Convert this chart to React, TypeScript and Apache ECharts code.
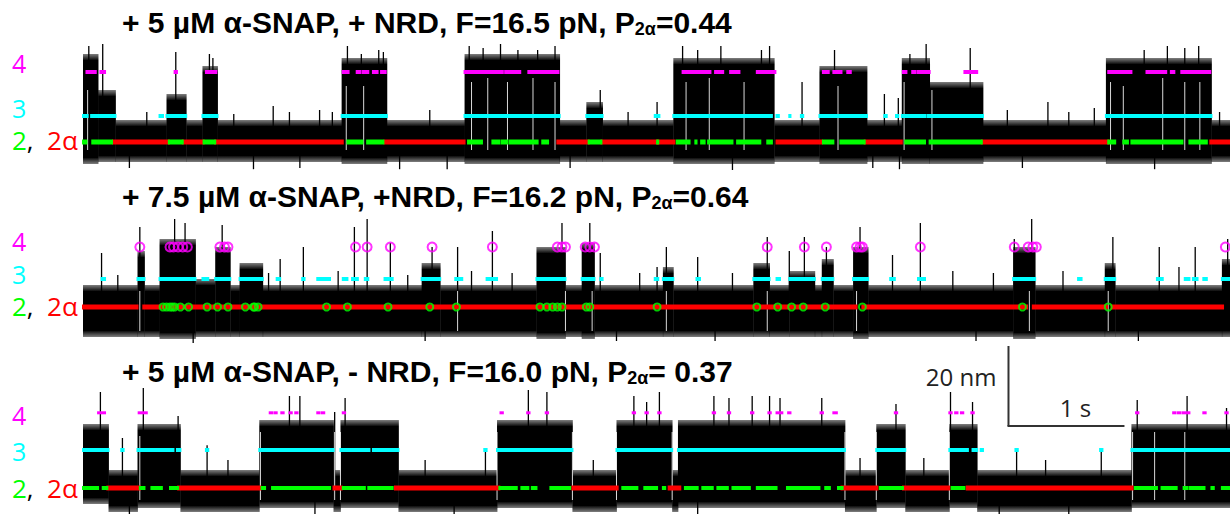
import React, { useEffect, useRef } from "react";
import * as echarts from "echarts";

// ---------- axis extent (seconds) ----------
const T_MAX = 9.89;

// ---------- state levels (nm above level 2 / 2α) for traces 1..3 ----------
const level3 = [6.5, 7, 9.5];
const level4 = [17.5, 15, 18.8];

// ---------- titles ----------
const titleMain = [
  "+ 5 µM α-SNAP, + NRD, F=16.5 pN, P",
  "+ 7.5 µM α-SNAP, +NRD, F=16.2 pN, P",
  "+ 5 µM α-SNAP, - NRD, F=16.0 pN, P",
];
const titleValue = ["=0.44", "=0.64", "= 0.37"];

// ---------- trace 1 ----------
const t1Bands = [
  [0, 0.13, -5.5, 22], [0.13, 0.28, -5, 13], [0.28, 0.72, -5, 5.5], [0.72, 0.89, -5, 12],
  [0.89, 1.03, -5, 5.5], [1.03, 1.16, -5, 19], [1.16, 2.23, -5, 5.5], [2.23, 2.62, -5.5, 21],
  [2.62, 3.29, -5, 5.5], [3.29, 4.11, -5.5, 22], [4.11, 4.34, -5, 5.5], [4.34, 4.48, -5, 10],
  [4.48, 5.09, -5, 5.5], [5.09, 5.96, -5.5, 21], [5.96, 6.35, -5, 5.5], [6.35, 6.76, -5.5, 19],
  [6.76, 7.06, -5, 5.5], [7.06, 7.3, -5.5, 21], [7.3, 7.76, -5.5, 15], [7.76, 8.82, -5, 5.5],
  [8.82, 9.73, -5.5, 21], [9.73, 9.89, -5, 5.5],
];
const t1Spikes = [
  [0.05, 0, 24], [0.17, 0, 24.5], [0.4, -6.5, 0], [0.55, 0, 7.5], [0.8, 0, 22.5], [1.09, 0, 22],
  [1.12, 0, 21], [1.3, 0, 7], [1.47, -6.8, 0], [1.64, 0, 9], [1.78, 0, 7.5], [1.87, -6.5, 0],
  [2.04, 0, 8], [2.15, 0, 7.5], [2.28, 0, 24], [2.4, 0, 22], [2.55, 0, 23], [2.59, 0, 22.5],
  [2.73, -6.8, 0], [2.99, 0, 8], [3.14, -6.8, 0], [3.33, 0, 24], [3.45, 0, 23.5], [3.6, 0, 24.5],
  [3.75, 0, 23], [3.92, 0, 23], [4.07, 0, 24], [4.2, -6.5, 0], [4.46, 0, 13], [4.7, 0, 7.5],
  [4.95, 0, 10], [5.17, 0, 24], [5.3, 0, 23], [5.5, 0, 24], [5.6, -7, 0], [5.85, 0, 23],
  [5.92, 0, 24], [6.2, 0, 15], [6.48, 0, 23], [6.81, -6.5, 0], [6.91, 0, 12], [7.03, 0, 11],
  [7.04, -6.8, 0], [7.13, 0, 22], [7.27, 0, 24.5], [7.65, 0, 23.5], [7.97, 0, 8], [8.1, -6.5, 0],
  [8.32, 0, 10], [8.5, 0, 7.5], [8.72, 0, 8.5], [9.15, 0, 23], [9.24, -6.8, 0], [9.35, 0, 24],
  [9.5, 0, 23.5], [9.62, 0, 24], [9.8, 0, 7.5],
];
const t1Gaps = [
  [0.04, -2, 13], [2.27, -2, 14], [2.42, -2, 14], [3.35, -2, 15], [3.49, -2, 16], [3.66, -2, 15],
  [3.88, -2, 16], [4.07, -2, 15], [5.2, -2, 15], [5.4, -2, 16], [5.7, -2, 15], [6.51, -2, 14],
  [7.08, -2, 15], [7.32, -2, 13], [8.86, -2, 15], [8.97, -2, 14], [9.31, -2, 16], [9.5, -2, 15],
  [9.63, -2, 15],
];
const t1Red = [
  [0.26, 0.74], [0.86, 1.04], [1.14, 2.24], [2.6, 3.29], [4.09, 4.36], [4.47, 4.95],
  [4.96, 5.1], [5.98, 6.37], [6.74, 7.06], [7.75, 8.84], [9.72, 9.89],
];
const t1Green = [
  [0, 0.03], [0.08, 0.25], [0.74, 0.86], [1.04, 1.14], [2.28, 2.41], [2.45, 2.59], [3.32, 3.44],
  [3.53, 3.59], [3.61, 3.66], [3.68, 3.92], [3.96, 4.01], [4.36, 4.47], [4.95, 4.96], [5.12, 5.23],
  [5.28, 5.29], [5.33, 5.36], [5.39, 5.6], [5.64, 5.84], [5.9, 5.94], [6.38, 6.47], [6.53, 6.74],
  [7.09, 7.26], [7.3, 7.75], [8.84, 8.9], [8.97, 9.01], [9.04, 9.48], [9.54, 9.69],
];
const t1Cyan = [
  [0, 0.04], [0.07, 0.28], [0.66, 0.69], [0.72, 0.89], [1.03, 1.16], [2.23, 2.62], [3.29, 4.11],
  [4.34, 4.48], [4.93, 4.97], [5.09, 5.94], [5.98, 6.0], [6.09, 6.1], [6.19, 6.21], [6.35, 6.76],
  [6.91, 6.93], [7.01, 7.03], [7.06, 7.26], [7.28, 7.76], [8.82, 9.73],
];
const t1Magenta = [
  [0.03, 0.11], [0.15, 0.19], [0.79, 0.81], [1.06, 1.15], [2.24, 2.29], [2.36, 2.39], [2.41, 2.46],
  [2.5, 2.54], [2.57, 2.61], [3.29, 3.62], [3.64, 3.77], [3.84, 3.9], [3.91, 3.97], [3.98, 4.1],
  [5.17, 5.41], [5.45, 5.52], [5.58, 5.66], [5.81, 5.97], [6.38, 6.43], [6.47, 6.54], [6.59, 6.62],
  [7.07, 7.1], [7.15, 7.18], [7.2, 7.3], [7.6, 7.71], [8.84, 9.04], [9.17, 9.34], [9.38, 9.41],
  [9.47, 9.72],
];

// ---------- trace 2 ----------
const t2Bands = [
  [0, 0.47, -7.5, 5.5], [0.47, 0.53, -7.5, 14], [0.53, 0.66, -7.5, 5.5], [0.66, 0.97, -8, 17],
  [0.97, 1.14, -7.5, 7], [1.14, 1.27, -7.5, 15], [1.27, 1.35, -7.5, 5.5], [1.35, 1.55, -7.5, 11],
  [1.55, 2.92, -7.5, 5.5], [2.92, 3.08, -7.5, 11], [3.08, 3.91, -7.5, 5.5], [3.91, 4.16, -8, 15],
  [4.16, 4.3, -7.5, 5.5], [4.3, 4.41, -8, 16], [4.41, 5.0, -7.5, 5.5], [5.0, 5.09, -7.5, 10],
  [5.09, 5.78, -7.5, 5.5], [5.78, 5.92, -7.5, 11], [5.92, 6.09, -7.5, 5.5], [6.09, 6.31, -7.5, 9],
  [6.31, 6.37, -7.5, 5.5], [6.37, 6.47, -7.5, 12], [6.47, 6.64, -7.5, 5.5], [6.64, 6.77, -8, 15],
  [6.77, 8.02, -7.5, 5.5], [8.02, 8.21, -8, 15], [8.21, 8.81, -7.5, 5.5], [8.81, 8.9, -7.5, 11],
  [8.9, 9.82, -7.5, 5.5], [9.82, 9.89, -7.5, 12],
];
const t2Spikes = [
  [0.16, 0, 13.5], [0.3, 0, 8], [0.49, 0, 20], [0.79, 0, 22], [0.88, 0, 21], [0.95, -9, 0],
  [1.2, 0, 20.5], [1.6, 0, 8.5], [1.7, 0, 12], [1.9, 0, 15], [2.2, 0, 9], [2.34, 0, 20],
  [2.45, 0, 22], [2.65, 0, 16], [2.8, 0, 8], [2.95, -8.5, 0], [3.01, 0, 15], [3.23, 0, 15],
  [3.35, 0, 9], [3.53, 0, 19], [3.7, 0, 8.5], [3.94, 0, 13.5], [4.13, 0, 21], [4.37, 0, 21],
  [4.46, 0, 13.5], [4.6, -8.5, 0], [4.8, 0, 8.5], [4.95, 0, 10], [5.03, 0, 15], [5.3, 0, 12.5],
  [5.45, -8.5, 0], [5.6, 0, 8.5], [5.9, 0, 17.5], [6.09, 0, 14], [6.22, 0, 17.5], [6.41, 0, 15],
  [6.7, 0, 20], [6.98, 0, 13], [7.22, 0, 21], [7.5, 0, 9], [7.7, -8.5, 0], [7.85, 0, 8.5],
  [8.03, 0, 17], [8.18, 0, 22], [8.45, 0, 9], [8.88, 0, 17.5], [9.1, -8.5, 0], [9.28, 0, 15],
  [9.45, 0, 10], [9.59, 0, 15], [9.87, 0, 17],
];
const t2Gaps = [
  [0.49, -6, 4], [3.23, -6, 4], [4.16, -6, 4], [4.39, -6, 4], [5.03, -6, 4], [5.9, -6, 4],
  [6.67, -6, 4], [8.16, -6, 4], [8.84, -6, 4],
];
const t2Red = [[0, 0.47], [0.52, 6.67], [6.72, 8.14], [8.19, 8.83], [8.87, 9.83]];
const t2Green = [
  0.69, 0.72, 0.75, 0.77, 0.79, 0.84, 0.91, 1.07, 1.16, 1.25, 1.4, 1.47, 1.48, 1.51, 2.1, 2.28,
  2.63, 2.99, 3.22, 3.94, 4.0, 4.05, 4.09, 4.13, 4.34, 4.37, 4.95, 5.81, 5.99, 6.11, 6.21, 6.4,
  6.72, 8.1, 8.84,
];
const t2Cyan = [
  [0.16, 0.19], [0.47, 0.53], [0.66, 0.97], [1.03, 1.08], [1.14, 1.27], [1.35, 1.55], [1.67, 1.7],
  [1.89, 1.91], [2.02, 2.13], [2.24, 2.28], [2.32, 2.37], [2.43, 2.46], [2.6, 2.67], [2.92, 3.08],
  [3.21, 3.27], [3.48, 3.57], [3.91, 4.16], [4.3, 4.41], [4.46, 4.48], [4.93, 4.96], [5.0, 5.09],
  [5.29, 5.32], [5.78, 5.92], [5.98, 6.01], [6.09, 6.31], [6.37, 6.47], [6.64, 6.77], [6.96, 7.0],
  [7.2, 7.26], [8.02, 8.21], [8.58, 8.61], [8.81, 8.9], [9.26, 9.31], [9.5, 9.54], [9.57, 9.61],
  [9.66, 9.69], [9.82, 9.89],
];
const t2Magenta = [
  0.49, 0.75, 0.78, 0.82, 0.86, 0.9, 1.18, 1.22, 1.25, 2.35, 2.45, 2.65, 3.01, 3.53, 4.09, 4.13,
  4.16, 4.33, 4.37, 4.41, 5.9, 6.22, 6.41, 6.67, 6.7, 6.72, 7.22, 8.03, 8.15, 8.19, 8.22, 9.85,
];

// ---------- trace 3 ----------
const t3Bands = [
  [0, 0.22, -4, 16], [0.22, 0.47, -6, 4.5], [0.47, 0.84, -5, 16], [0.84, 1.52, -6, 4.5],
  [1.52, 2.16, -5, 17], [2.16, 2.22, -6, 4.5], [2.22, 2.72, -5, 17], [2.72, 3.57, -6, 4.5],
  [3.57, 4.22, -5, 17], [4.22, 4.6, -6, 4.5], [4.6, 5.08, -5, 17], [5.08, 5.13, -6, 4.5],
  [5.13, 6.57, -5, 17], [6.57, 6.84, -6, 4.5], [6.84, 7.09, -5, 16], [7.09, 7.47, -6, 4.5],
  [7.47, 7.71, -5, 16], [7.71, 9.04, -6, 4.5], [9.04, 9.89, -5, 16],
];
const t3Spikes = [
  [0.15, 0, 24], [0.34, 0, 12.5], [0.4, -7, 0], [0.52, 0, 25], [0.82, 0, 18], [1.07, 0, 10.7],
  [1.25, 0, 7], [1.78, 0, 23], [1.87, 0, 23], [2.0, -6.5, 0], [2.17, 0, 19], [2.26, 0, 22.5],
  [2.95, 0, 7], [3.2, -7, 0], [3.47, 0, 9], [3.84, 0, 24.5], [4.0, 0, 24], [4.4, 0, 7],
  [4.75, 0, 23], [4.86, 0, 21.5], [4.97, 0, 24], [5.3, -6.5, 0], [5.44, 0, 23], [5.57, 0, 22.5],
  [5.77, 0, 23], [5.92, 0, 23], [6.01, 0, 22.5], [6.37, 0, 22.5], [6.7, 0, 7.5], [7.01, 0, 21],
  [7.25, 0, 7.5], [7.48, 0, 24], [7.67, 0, 21.5], [7.9, -7, 0], [8.05, 0, 9.5], [8.3, 0, 7],
  [8.5, -6.5, 0], [8.78, 0, 9.5], [9.09, 0, 22], [9.52, 0, 23], [9.86, 0, 20],
];
const t3Gaps = [
  [0.49, -3, 13], [1.53, -3, 14], [2.17, -3, 14], [2.22, -3, 14], [3.57, -3, 14], [4.22, -3, 14],
  [4.6, -3, 14], [5.08, -3, 14], [6.57, -3, 14], [6.84, -3, 14], [7.47, -3, 14], [9.05, -3, 14],
  [9.24, -3, 14], [9.5, -3, 14],
];
const t3Red = [
  [0.21, 0.49], [0.82, 1.53], [2.16, 2.23], [2.69, 3.59], [4.22, 4.61], [5.05, 5.15],
  [6.54, 6.85], [7.07, 7.47], [7.62, 9.05],
];
const t3Green = [
  [0, 0.08], [0.09, 0.13], [0.17, 0.21], [0.49, 0.53], [0.59, 0.68], [0.75, 0.82], [1.54, 1.57],
  [1.63, 2.13], [2.24, 2.43], [2.46, 2.67], [3.59, 3.74], [3.78, 3.84], [3.87, 3.91], [4.03, 4.2],
  [4.65, 4.78], [4.84, 4.95], [5.0, 5.02], [5.19, 5.3], [5.34, 5.43], [5.47, 5.56], [5.6, 5.75],
  [5.81, 5.98], [6.07, 6.35], [6.4, 6.44], [6.51, 6.55], [6.87, 7.07], [7.49, 7.6], [9.07, 9.26],
  [9.3, 9.43], [9.49, 9.52], [9.54, 9.67], [9.73, 9.75], [9.82, 9.89],
];
const t3Cyan = [
  [0, 0.22], [0.33, 0.35], [0.47, 0.78], [0.81, 0.84], [1.06, 1.08], [1.52, 2.16], [2.22, 2.47],
  [2.5, 2.72], [3.46, 3.48], [3.57, 4.22], [4.6, 5.08], [5.13, 6.57], [6.84, 7.09], [7.47, 7.63],
  [7.67, 7.71], [7.74, 7.76], [8.04, 8.06], [8.77, 8.79], [9.04, 9.89],
];
const t3Magenta = [
  [0.13, 0.19], [0.48, 0.55], [1.61, 1.63], [1.65, 1.67], [1.71, 1.73], [1.78, 1.8], [1.83, 1.85],
  [2.02, 2.04], [2.06, 2.08], [2.24, 2.26], [3.6, 3.62], [3.83, 3.85], [3.99, 4.01], [4.74, 4.76],
  [4.85, 4.87], [4.96, 4.98], [5.43, 5.45], [5.56, 5.58], [5.76, 5.78], [5.91, 5.93], [5.98, 6.03],
  [6.08, 6.1], [6.36, 6.38], [6.47, 6.5], [7.0, 7.02], [7.47, 7.49], [7.52, 7.54], [7.57, 7.59],
  [7.66, 7.68], [9.08, 9.1], [9.4, 9.42], [9.44, 9.46], [9.48, 9.54], [9.66, 9.68], [9.85, 9.87],
];

// ---------- scale bar (in trace-3 coordinates) ----------
const scaleBarT = [7.98, 8.98]; // 1 s
const scaleBarNm = [15.5, 35.5]; // 20 nm

// ---------- styling ----------
const C_RED = "#ff0000";
const C_GREEN = "#00ff00";
const C_CYAN = "#00ffff";
const C_MAG = "#ff00ff";
const FR = 1.5; // fringe (nm) of the noise band
const GRIDS = [
  { top: 42, height: 128, min: -7, max: 25 },
  { top: 219, height: 120, min: -8, max: 22 },
  { top: 392, height: 120, min: -6, max: 24 },
];
const TITLE_Y = [6, 180, 355];
const LABEL_Y = [
  [63, 108, 140],
  [241, 274, 306],
  [415, 451, 488],
];

function bandSeries(gi: number, data: number[][]) {
  return {
    type: "custom",
    coordinateSystem: "cartesian2d",
    xAxisIndex: gi,
    yAxisIndex: gi,
    z: 1,
    clip: false,
    silent: true,
    data,
    encode: { x: [0, 1], y: [2, 3] },
    renderItem: (_p: any, api: any) => {
      const t0 = api.value(0), t1 = api.value(1), lo = api.value(2), hi = api.value(3);
      const a = api.coord([t0, hi]);
      const b = api.coord([t1, lo]);
      const c = api.coord([t0, hi - FR]);
      const d = api.coord([t1, lo + FR]);
      const w = b[0] - a[0] + 0.4;
      return {
        type: "group",
        children: [
          {
            type: "rect",
            shape: { x: a[0], y: a[1], width: w, height: c[1] - a[1] },
            style: {
              fill: new echarts.graphic.LinearGradient(0, 0, 0, 1, [
                { offset: 0, color: "rgba(0,0,0,0.5)" },
                { offset: 1, color: "rgba(0,0,0,0.95)" },
              ]),
            },
          },
          {
            type: "rect",
            shape: { x: a[0], y: c[1], width: w, height: d[1] - c[1] },
            style: { fill: "#000" },
          },
          {
            type: "rect",
            shape: { x: a[0], y: d[1], width: w, height: b[1] - d[1] },
            style: {
              fill: new echarts.graphic.LinearGradient(0, 0, 0, 1, [
                { offset: 0, color: "rgba(0,0,0,0.95)" },
                { offset: 1, color: "rgba(0,0,0,0.5)" },
              ]),
            },
          },
        ],
      };
    },
  };
}

function vlineSeries(gi: number, data: number[][], color: string, width: number, z: number) {
  return {
    type: "custom",
    coordinateSystem: "cartesian2d",
    xAxisIndex: gi,
    yAxisIndex: gi,
    z,
    clip: false,
    silent: true,
    data,
    encode: { x: 0, y: [1, 2] },
    renderItem: (_p: any, api: any) => {
      const p0 = api.coord([api.value(0), api.value(1)]);
      const p1 = api.coord([api.value(0), api.value(2)]);
      return {
        type: "line",
        shape: { x1: p0[0], y1: p0[1], x2: p1[0], y2: p1[1] },
        style: { stroke: color, lineWidth: width },
      };
    },
  };
}

function segSeries(gi: number, data: number[][], level: number, color: string, h: number, z: number) {
  return {
    type: "custom",
    coordinateSystem: "cartesian2d",
    xAxisIndex: gi,
    yAxisIndex: gi,
    z,
    clip: false,
    silent: true,
    data: data.map(([a, b]) => [a, b, level]),
    encode: { x: [0, 1], y: 2 },
    renderItem: (_p: any, api: any) => {
      const p0 = api.coord([api.value(0), api.value(2)]);
      const p1 = api.coord([api.value(1), api.value(2)]);
      return {
        type: "rect",
        shape: { x: p0[0] - 1, y: p0[1] - h / 2, width: Math.max(p1[0] - p0[0], 1) + 2, height: h },
        style: { fill: color },
      };
    },
  };
}

function ringSeries(gi: number, times: number[], level: number, color: string, size: number) {
  return {
    type: "scatter",
    xAxisIndex: gi,
    yAxisIndex: gi,
    z: 6,
    silent: true,
    clip: false,
    symbol: "circle",
    symbolSize: size,
    data: times.map((t) => [t, level]),
    itemStyle: { color: "rgba(0,0,0,0)", borderColor: color, borderWidth: 2 },
  };
}

const TITLE_FONT = "'Liberation Sans', Arial, Helvetica, sans-serif";
const LABEL_FONT = "'Open Sans', 'DejaVu Sans', sans-serif";

export default function App() {
  const ref = useRef<HTMLDivElement>(null);
  useEffect(() => {
    if (!ref.current) return;
    const chart = echarts.init(ref.current, undefined, { renderer: "svg" });

    const grid = GRIDS.map((g) => ({ left: 83, right: 0, top: g.top, height: g.height }));
    const xAxis = GRIDS.map((_, i) => ({ type: "value", gridIndex: i, min: 0, max: T_MAX, show: false }));
    const yAxis = GRIDS.map((g, i) => ({ type: "value", gridIndex: i, min: g.min, max: g.max, show: false }));

    const series: any[] = [
      bandSeries(0, t1Bands),
      vlineSeries(0, t1Spikes, "#000", 1.3, 2),
      vlineSeries(0, t1Gaps, "rgba(255,255,255,0.85)", 1, 2),
      segSeries(0, t1Red, 0, C_RED, 5, 3),
      segSeries(0, t1Green, 0, C_GREEN, 5, 3),
      segSeries(0, t1Cyan, level3[0], C_CYAN, 4, 4),
      segSeries(0, t1Magenta, level4[0], C_MAG, 4, 5),

      bandSeries(1, t2Bands),
      vlineSeries(1, t2Spikes, "#000", 1.3, 2),
      vlineSeries(1, t2Gaps, "rgba(255,255,255,0.85)", 1, 2),
      segSeries(1, t2Red, 0, C_RED, 5, 3),
      segSeries(1, t2Cyan, level3[1], C_CYAN, 4, 4),
      ringSeries(1, t2Green, 0, C_GREEN, 7),
      ringSeries(1, t2Magenta, level4[1], C_MAG, 9),

      bandSeries(2, t3Bands),
      vlineSeries(2, t3Spikes, "#000", 1.3, 2),
      vlineSeries(2, t3Gaps, "rgba(255,255,255,0.85)", 1, 2),
      segSeries(2, t3Red, 0, C_RED, 5, 3),
      segSeries(2, t3Green, 0, C_GREEN, 4, 3),
      segSeries(2, t3Cyan, level3[2], C_CYAN, 4, 4),
      segSeries(2, t3Magenta, level4[2], C_MAG, 3, 5),
    ];

    const titleRich = {
      b: { fontSize: 30, fontWeight: "bold", fontFamily: TITLE_FONT, fill: "#000", lineHeight: 32 },
      s: { fontSize: 18, fontWeight: "bold", fontFamily: TITLE_FONT, fill: "#000", lineHeight: 18, verticalAlign: "bottom" },
    };
    const labelRich = {
      g: { fontSize: 26, fontFamily: LABEL_FONT, fill: C_GREEN, lineHeight: 22 },
      k: { fontSize: 26, fontFamily: LABEL_FONT, fill: "#000", lineHeight: 22 },
      r: { fontSize: 26, fontFamily: LABEL_FONT, fill: C_RED, lineHeight: 22 },
    };

    const graphic: any[] = [];
    titleMain.forEach((t, i) => {
      graphic.push({
        type: "text",
        x: 122,
        y: TITLE_Y[i],
        silent: true,
        style: {
          text: `{b|${t}}{s|2α}{b|${titleValue[i]}}`,
          rich: titleRich,
          align: "left",
          verticalAlign: "top",
        },
      });
    });
    LABEL_Y.forEach((ys) => {
      graphic.push({
        type: "text", x: 12, y: ys[0], silent: true,
        style: { text: "4", fill: C_MAG, fontSize: 25, lineHeight: 20, fontFamily: LABEL_FONT, verticalAlign: "middle" },
      });
      graphic.push({
        type: "text", x: 12, y: ys[1], silent: true,
        style: { text: "3", fill: C_CYAN, fontSize: 25, lineHeight: 20, fontFamily: LABEL_FONT, verticalAlign: "middle" },
      });
      graphic.push({
        type: "text", x: 12, y: ys[2], silent: true,
        style: { text: "{g|2}{k|,  }{r|2α}", rich: labelRich, verticalAlign: "middle" },
      });
    });

    const option: any = {
      animation: false,
      backgroundColor: "#fff",
      grid,
      xAxis,
      yAxis,
      series,
      graphic,
    };
    chart.setOption(option);

    // scale bar from the trace-3 scales
    const p0 = chart.convertToPixel({ gridIndex: 2 } as any, [scaleBarT[0], scaleBarNm[0]]) as number[];
    const p1 = chart.convertToPixel({ gridIndex: 2 } as any, [scaleBarT[1], scaleBarNm[1]]) as number[];
    if (p0 && p1) {
      chart.setOption({
        graphic: [
          ...graphic,
          {
            type: "line", silent: true,
            shape: { x1: p0[0], y1: p1[1], x2: p0[0], y2: p0[1] },
            style: { stroke: "#333", lineWidth: 2 },
          },
          {
            type: "line", silent: true,
            shape: { x1: p0[0] - 1, y1: p0[1], x2: p1[0], y2: p0[1] },
            style: { stroke: "#333", lineWidth: 2 },
          },
          {
            type: "text", silent: true, x: p0[0] - 12, y: (p0[1] + p1[1]) / 2 - 10,
            style: { text: "20 nm", fill: "#222", fontSize: 24, fontFamily: LABEL_FONT, align: "right", verticalAlign: "middle" },
          },
          {
            type: "text", silent: true, x: (p0[0] + p1[0]) / 2 + 9, y: p0[1] - 19,
            style: { text: "1 s", fill: "#222", fontSize: 24, fontFamily: LABEL_FONT, align: "center", verticalAlign: "middle" },
          },
        ],
      });
    }

    return () => chart.dispose();
  }, []);

  return (
    <div
      ref={ref}
      style={{ position: "fixed", left: 0, top: 0, width: 1230, height: 514, background: "#fff" }}
    />
  );
}
